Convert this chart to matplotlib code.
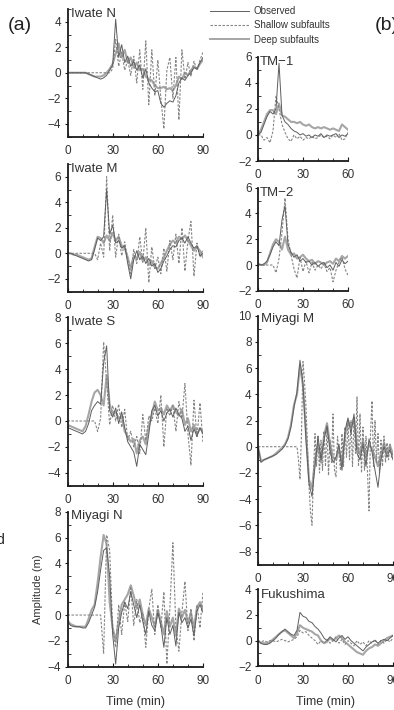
import matplotlib
matplotlib.use('Agg')
import matplotlib.pyplot as plt
from matplotlib.ticker import MultipleLocator
from matplotlib.lines import Line2D

plt.rcParams['font.family'] = ['Liberation Sans', 'DejaVu Sans']

# time grids (min)
t90 = list(range(0, 91, 2))
t60 = list(range(0, 61, 2))
t90_fine = list(range(0, 91))

# ---- Iwate N ----
iwn_obs = [0, 0, 0, 0, 0, 0, 0, -0.1, -0.2, -0.3, -0.4, -0.5, -0.4, -0.2, 0.2, 0.6, 4.2, 1.2, 2.2, 0.8,
           1.3, 0.5, 0.9, 0.2, 0.6, -0.4, 0.3, -0.8, -1.2, -1.5, -1.4, -2.4, -2.7, -2.4, -2.2, -2.3, -1.8,
           -0.8, -0.4, -0.6, -0.2, 0, 0.4, 0.3, 0.8, 1.2]
iwn_shallow = [0, 0, 0, 0, 0, 0, 0, 0, 0, 0, 0, 0, 0, 0, 0, 0.3, 2.6, 0.5, 1.6, 0.2, 1.0, -0.2, 1.3, -0.8,
               1.8, -1.3, 2.5, -2.5, 1.8, -1.8, 1.0, -2.0, -4.4, 0.2, 1.2, -2.0, 1.2, -3.7, 1.8, -0.5,
               0.8, -0.3, 0.9, 0.2, 1.0, 1.6]
iwn_deep = [0, 0, 0, 0, 0, 0, 0, -0.1, -0.2, -0.3, -0.3, -0.3, -0.2, 0, 0.3, 0.7, 1.5, 2.3, 1.2, 1.8,
            0.8, 1.2, 0.4, 0.8, 0.2, 0.3, -0.3, -0.5, -0.6, -1.0, -1.2, -1.2, -1.1, -1.3, -1.2, -1.4,
            -1.0, -0.3, -0.5, 0, -0.2, 0.2, 0.5, 0.3, 0.7, 1.0]

# ---- Iwate M ----
iwm_obs = [0, 0, -0.1, -0.2, -0.3, -0.4, -0.5, -0.6, -0.5, 0.3, 1.2, 1.0, 1.3, 5.0, 1.5, 2.2, 0.8, 1.0,
           0.4, 0.6, -0.8, -2.0, -0.5, 0.2, -0.5, -0.2, -0.8, -0.4, -1.0, -0.8, -1.5, -1.2, -0.6, -0.2,
           0.3, 0.6, 0.5, 1.0, 1.2, 0.8, 1.3, 0.8, 0.4, 0.6, -0.2, 0.0]
iwm_shallow = [0, 0, 0, 0, 0, 0, 0, 0, 0, 0, -0.5, 0.8, -0.3, 6.0, 0.2, 3.0, -0.3, 1.5, -0.2, 0.9,
               -0.5, -1.6, 0.3, -0.8, 1.3, -0.7, 2.0, -2.3, 0.5, -1.2, -0.3, -1.6, 0.4, -1.4, 1.0, -0.5,
               1.5, -0.8, 2.0, -1.4, 1.0, 2.5, -1.8, 0.8, -0.3, 0.3]
iwm_deep = [0, 0, -0.1, -0.1, -0.2, -0.3, -0.4, -0.5, -0.4, 0.5, 1.3, 1.2, 0.8, 1.4, 1.0, 1.6, 1.0, 1.3,
            0.6, 0.4, -0.3, -1.2, -0.2, -0.4, 0.1, -0.6, -0.3, -0.9, -0.6, -1.1, -1.2, -0.8, -0.3, 0.2,
            0.7, 1.0, 0.8, 1.3, 1.1, 1.4, 1.0, 0.6, 0.2, 0.5, 0.2, -0.3]

# ---- Iwate S ----
iws_obs = [-0.5, -0.6, -0.7, -0.8, -0.9, -1.0, -0.8, -0.2, 0.8, 1.2, 1.5, 1.3, 4.5, 5.8, 0.8, 0.3, 1.0,
           -0.2, 0.7, -0.5, -1.6, -2.0, -2.4, -3.5, -1.8, -2.2, -2.6, -1.0, 0.8, 1.2, 0.4, 0.8, 0.0, 0.6,
           0.9, 0.3, 1.0, 0.5, 0.2, -0.8, -0.4, -1.5, -0.6, -1.2, -0.5, -1.0]
iws_shallow = [0, 0, 0, 0, 0, 0, 0, 0, 0, 0, -0.8, 0.2, 6.1, 3.0, -0.3, 1.2, 0.0, 1.3, -0.5, 0.9, -1.5,
               -0.8, -2.0, -1.2, -2.5, 0.5, -1.5, 0.4, 0.0, 1.0, -0.2, 2.0, -2.0, 1.0, 0.4, 1.2, -0.8,
               1.5, 0.2, 2.9, -1.0, -3.4, 1.6, -1.2, 1.4, -1.7]
iws_deep = [-0.3, -0.4, -0.5, -0.6, -0.7, -0.8, -0.4, 0.5, 1.5, 2.2, 2.4, 2.0, 1.2, 3.5, 1.3, 0.5, 0.7,
            0.2, 0.4, -0.8, -1.2, -1.6, -1.4, -2.5, -1.5, -1.2, -1.8, -0.4, 0.5, 1.5, 0.8, 1.0, 0.5, 1.2,
            0.8, 1.2, 0.7, 0.4, 0.9, -0.3, 0.2, -0.8, -0.3, -1.0, -0.6, -0.8]

# ---- Miyagi N ----
myn_obs = [-0.5, -0.8, -0.9, -0.9, -0.9, -1.0, -1.0, -0.6, 0.0, 0.6, 1.8, 3.5, 5.0, 5.2, 3.0, -1.5, -3.8,
           -1.0, 0.2, 1.0, 0.5, 1.8, 0.8, -0.2, 0.8, -0.5, -1.5, 0.3, -0.8, -1.2, 0.2, -0.8, -2.5, -0.2,
           -1.5, -0.8, -2.4, 0.2, -0.6, -0.2, -1.0, -0.3, -1.6, 0.3, 0.8, 0.2]
myn_shallow = [0, 0, 0, 0, 0, 0, 0, 0, 0, 0, 0, 0, -3.0, 6.2, 5.0, -1.0, -2.5, 0.8, -1.5, 1.0, -0.5, 2.2,
               -0.8, 1.2, -0.6, 0.2, -2.5, 0.5, 2.0, -1.5, 0.8, -1.0, 1.8, -3.8, 0.5, 5.6, -1.0, -2.8,
               0.2, 2.6, -1.2, 0.5, -2.0, 0.8, -1.0, 1.8]
myn_deep = [-0.4, -0.7, -0.8, -0.9, -0.9, -0.9, -0.9, -0.3, 0.4, 0.8, 2.5, 4.5, 6.2, 5.5, 1.0, -1.0, -2.0,
            -0.5, 0.8, 1.2, 1.6, 2.3, 1.5, 0.5, 1.2, 0.0, -0.8, 0.5, -0.2, -0.9, 0.4, -0.5, -1.5, 0.3,
            -0.9, -0.2, -1.6, 0.5, -0.2, 0.4, -0.6, 0.2, -1.0, 0.6, 1.0, 0.5]

# ---- TM-1 ----
tm1_obs = [0.0, 0.2, 0.8, 1.4, 1.8, 1.6, 2.0, 5.5, 1.5, 1.0, 0.8, 0.5, 0.3, 0.2, 0.0, 0.1, -0.1, 0.0,
           -0.2, 0.0, -0.1, 0.1, -0.2, 0.0, -0.1, 0.0, 0.1, -0.2, 0.0, -0.1, 0.1]
tm1_shallow = [0, 0, -0.4, -0.2, -0.6, 0.3, 3.0, 2.0, 0.8, 0.2, -0.3, -0.5, 0.0, -0.3, -0.1, -0.4, -0.2,
               -0.3, -0.1, -0.3, -0.2, 0.0, -0.2, -0.1, -0.3, 0.0, -0.2, 0.1, -0.4, -0.3, 0.2]
tm1_deep = [0.0, 0.4, 1.0, 1.6, 1.9, 1.9, 1.6, 2.4, 1.5, 1.4, 1.2, 1.0, 1.0, 0.9, 1.0, 0.8, 0.7, 0.8, 0.6,
            0.5, 0.6, 0.5, 0.6, 0.5, 0.4, 0.5, 0.4, 0.3, 0.8, 0.6, 0.4]

# ---- TM-2 ----
tm2_obs = [0.1, 0.0, 0.1, 0.3, 0.8, 1.4, 1.8, 1.5, 3.5, 4.6, 1.6, 1.0, 0.6, 0.8, 0.3, 0.5, 0.2, 0.3, 0.0,
           0.2, -0.1, 0.1, 0.2, -0.2, 0.0, -0.4, 0.2, -0.1, 0.4, 0.1, 0.3]
tm2_shallow = [0, 0, 0, 0, 0, 0, -0.6, 0.5, 2.5, 5.2, 2.0, 0.8, -0.3, -1.0, 0.6, -0.5, 0.3, -0.6, 0.2,
               -0.4, 0.0, -0.3, 0.1, -0.5, -0.2, -1.3, -0.4, 0.2, 0.6, -0.3, -0.8]
tm2_deep = [0.1, 0.0, 0.0, 0.2, 0.9, 1.6, 2.0, 1.8, 1.2, 2.2, 1.2, 0.8, 0.9, 0.5, 0.6, 0.8, 0.5, 0.3, 0.4,
            0.1, 0.3, 0.2, 0.0, 0.2, 0.3, 0.1, 0.5, 0.3, 0.7, 0.5, 0.7]

# ---- Miyagi M ----
mym_obs = [0.0, -1.2, -1.0, -0.9, -0.8, -0.7, -0.6, -0.4, -0.2, 0.1, 0.6, 1.5, 3.0, 4.2, 6.6, 4.8, 0.5,
           -2.8, -3.8, -1.5, 0.8, -1.0, 0.5, 1.6, -0.3, -1.2, -0.8, 0.2, -1.8, 1.2, 2.2, 1.0, 2.5, -0.5,
           -1.0, 0.2, -1.5, 0.6, -0.4, -1.8, -3.1, -1.0, 0.0, -0.8, -0.2, -1.0]
# shallow read at 1-min steps (dense oscillation)
mym_shallow = [0, 0, 0, 0, 0, 0, 0, 0, 0, 0, 0, 0, 0, 0, 0, 0, 0, 0, 0, 0, 0, 0, 0, 0, 0, 0,
               0.0, -1.0, -2.5, 1.0, 6.5, 5.0, 3.0, 0.0, -3.0, -5.0, -6.0, -2.0, 1.0, -1.5, 0.8,
               -2.0, 0.5, -1.8, 1.2, -1.5, 1.5, -2.2, 0.5, -1.2, 2.5, -1.8, -2.3, 0.8, -0.5, -1.8,
               1.0, -1.5, 1.5, -0.8, 1.8, -1.0, 2.0, -1.5, 2.2, -0.5, 3.8, -1.5, 2.5, -2.0, 1.5,
               -1.8, 0.8, -2.0, -4.9, 1.0, 3.5, -1.5, 2.0, -1.2, 1.0, -2.0, 0.5, -1.5, 0.8, -1.2,
               0.3, -1.0, 0.2, -0.8, -0.5]
mym_deep = [0.0, -1.1, -1.0, -0.9, -0.8, -0.7, -0.5, -0.3, -0.1, 0.2, 0.7, 1.7, 3.2, 4.0, 6.2, 4.6, 1.0,
            -2.5, -3.2, -1.0, 0.2, -1.2, 0.8, 1.8, 0.2, -0.8, -1.0, -0.2, -1.2, 0.8, 2.0, 1.5, 2.2, 0.0,
            -0.6, 0.5, -0.8, 0.2, -0.2, -0.8, -1.5, -0.6, 0.3, -0.5, 0.1, -0.6]

# ---- Fukushima ----
fuk_obs = [0.0, -0.2, -0.3, -0.3, -0.2, 0.0, 0.2, 0.5, 0.7, 0.9, 0.7, 0.5, 0.4, 0.8, 2.2, 1.9, 1.8, 1.5,
           1.4, 1.1, 0.9, 0.6, 0.2, 0.0, 0.3, 0.1, -0.1, 0.2, 0.4, 0.1, 0.3, 0.0, -0.2, -0.4, -0.6, -0.8,
           -0.5, -0.3, -0.1, 0.0, -0.2, 0.0, 0.1, 0.0, 0.2, 0.4]
fuk_shallow = [0, -0.1, 0.0, -0.1, 0.0, 0.0, -0.1, 0.0, 0.1, 0.0, -0.1, 0.0, 0.1, 0.3, 0.8, 0.6, 0.7,
               0.4, 0.2, 0.0, -0.3, 0.0, -0.2, 0.1, -0.2, 0.0, 0.3, -0.2, 0.1, -0.3, 0.0, -0.2, -0.4,
               0.0, -0.3, -0.1, -0.4, 0.0, -0.2, 0.1, -0.3, 0.0, -0.2, 0.1, -0.1, 0.2]
fuk_deep = [0.0, -0.2, -0.2, -0.2, -0.1, 0.1, 0.3, 0.5, 0.7, 0.8, 0.6, 0.4, 0.2, 0.6, 1.2, 1.0, 0.9, 0.8,
            0.7, 0.5, 0.4, 0.0, -0.2, -0.1, 0.2, 0.0, 0.2, 0.4, 0.2, -0.1, -0.3, -0.5, -0.7, -0.9, -1.0,
            -1.1, -0.8, -0.6, -0.5, -0.3, -0.4, -0.2, 0.0, 0.2, 0.3, 0.4]

W, H = 394, 710
OBS_C, SH_C, DP_C = '#5e5e5e', '#858585', '#a6a6a6'
DASH = (0, (2.2, 1.4))


def px_axes(x0, top, width, bottom):
    return fig.add_axes([x0 / W, 1 - bottom / H, width / W, (bottom - top) / H])


fig = plt.figure(figsize=(W / 100, H / 100), dpi=100)

# name, time obs/deep, obs, time shallow, shallow, deep, (left, top, width, bottom), xlim, ylim
panels = [
    ('Iwate N', t90, iwn_obs, t90, iwn_shallow, iwn_deep, (67.5, 9, 135.5, 136.5), 90, (-5, 5)),
    ('Iwate M', t90, iwm_obs, t90, iwm_shallow, iwm_deep, (67.5, 164, 135.5, 291.6), 90, (-3, 7)),
    ('Iwate S', t90, iws_obs, t90, iws_shallow, iws_deep, (67.5, 317.3, 135.5, 485.8), 90, (-5, 8)),
    ('Miyagi N', t90, myn_obs, t90, myn_shallow, myn_deep, (67.5, 511.7, 135.5, 666.7), 90, (-4, 8)),
    ('TM\u22121', t60, tm1_obs, t60, tm1_shallow, tm1_deep, (258, 56.7, 90, 161), 60, (-2, 6)),
    ('TM\u22122', t60, tm2_obs, t60, tm2_shallow, tm2_deep, (258, 187.7, 90, 290.8), 60, (-2, 6)),
    ('Miyagi M', t90, mym_obs, t90_fine, mym_shallow, mym_deep, (258, 315.7, 135, 564.6), 90, (-9, 10)),
    ('Fukushima', t90, fuk_obs, t90, fuk_shallow, fuk_deep, (258, 589.3, 135, 666.3), 90, (-2, 4)),
]

tick_col = '#333333'
axes = {}
for name, t, obs, ts, sh, dp, box, xmax, ylim in panels:
    ax = px_axes(*box)
    axes[name] = ax
    ax.plot(t, dp, color=DP_C, lw=1.5, solid_joinstyle='round')
    ax.plot(ts, sh, color=SH_C, lw=0.8, ls=DASH)
    ax.plot(t, obs, color=OBS_C, lw=0.7)
    ax.set_xlim(0, xmax)
    ax.set_ylim(*ylim)
    for s in ('top', 'right'):
        ax.spines[s].set_visible(False)
    for s in ('left', 'bottom'):
        ax.spines[s].set_linewidth(1.3)
        ax.spines[s].set_color('#1a1a1a')
    ax.xaxis.set_major_locator(MultipleLocator(30))
    ax.xaxis.set_minor_locator(MultipleLocator(10))
    ax.yaxis.set_major_locator(MultipleLocator(2))
    ax.yaxis.set_minor_locator(MultipleLocator(1))
    ax.tick_params(axis='x', which='major', direction='in', length=3, width=0.8, pad=6,
                   labelsize=8.5, labelcolor=tick_col, colors='#1a1a1a')
    ax.tick_params(axis='x', which='minor', direction='in', length=2, width=0.6, colors='#1a1a1a')
    ax.tick_params(axis='y', which='major', direction='out', length=2.5, width=0.8, pad=2,
                   labelsize=8.5, labelcolor=tick_col, colors='#1a1a1a')
    ax.tick_params(axis='y', which='minor', direction='in', length=2, width=0.6, colors='#1a1a1a')
    ax.patch.set_alpha(0)
    ax.text(0.025, 1.01, name, transform=ax.transAxes, va='top', ha='left',
            fontsize=9.5, color='#333333')

# axis titles
ax = axes['Miyagi N']
ax.set_ylabel('Amplitude (m)', fontsize=8, color='#333333')
ax.yaxis.set_label_coords(-0.18, 0.5)
ax.set_xlabel('Time (min)', fontsize=9, color='#333333')
ax.xaxis.set_label_coords(0.5, -0.19)
ax = axes['Fukushima']
ax.set_xlabel('Time (min)', fontsize=9, color='#333333')
ax.xaxis.set_label_coords(0.5, -0.38)

# legend
handles = [Line2D([], [], color=OBS_C, lw=0.7),
           Line2D([], [], color=SH_C, lw=0.8, ls=DASH),
           Line2D([], [], color=DP_C, lw=1.4)]
fig.legend(handles, ['Observed', 'Shallow subfaults', 'Deep subfaults'], loc='upper left',
           bbox_to_anchor=(210 / W, 1 - 6 / H), frameon=False, fontsize=7, handlelength=4,
           handletextpad=0.5, labelspacing=0.45, borderpad=0, borderaxespad=0,
           labelcolor='#333333')

# panel labels (cropped at the figure edges, as in the source scan)
fig.text(8 / W, 1 - 25 / H, '(a)', fontsize=14, va='center', ha='left', color='#222222')
fig.text(375 / W, 1 - 25 / H, '(b)', fontsize=14, va='center', ha='left', color='#222222')
fig.text(-4 / W, 1 - 540 / H, 'd', fontsize=10, va='center', ha='left', color='#222222')

fig.savefig('out.png', dpi=100)
